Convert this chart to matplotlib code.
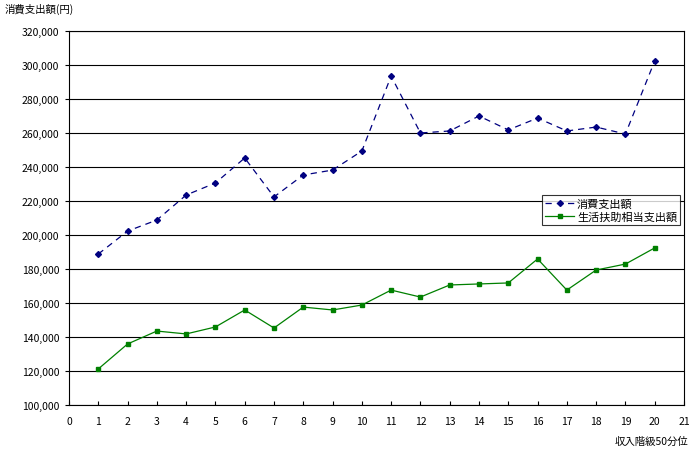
import numpy as np
import matplotlib
matplotlib.use('Agg')
from matplotlib import pyplot as plt
from matplotlib.ticker import FuncFormatter, MultipleLocator

plt.rcParams['font.family'] = ['Noto Sans CJK JP', 'DejaVu Sans']

# data
bins = list(range(1, 21))
consumption = [188800, 202300, 208800, 223500, 230600, 245300, 222400, 235300, 238200, 249400,
               293500, 260000, 261200, 270000, 261800, 268800, 261200, 263500, 259400, 302400]
welfare = [121200, 135900, 143500, 141800, 145900, 155900, 145300, 157600, 155900, 158800,
           167600, 163500, 170600, 171200, 171800, 185900, 167600, 179400, 182900, 192400]
labels = ['消費支出額', '生活扶助相当支出額']

fig = plt.figure(figsize=(6.94, 4.52), dpi=100)
ax = fig.add_axes([69 / 694, 46 / 452, 615 / 694, 374 / 452])

ax.plot(bins, consumption, color='#000080', linestyle=(0, (5, 4)), linewidth=0.9,
        marker='D', markersize=3, label=labels[0])
ax.plot(bins, welfare, color='#008000', linestyle='-', linewidth=0.9,
        marker='s', markersize=3, label=labels[1])

ax.set_xlim(0, 21)
ax.set_ylim(100000, 320000)
ax.xaxis.set_major_locator(MultipleLocator(1))
ax.yaxis.set_major_locator(MultipleLocator(20000))
ax.yaxis.set_major_formatter(FuncFormatter(lambda v, p: '{:,.0f}'.format(v)))
ax.grid(axis='y', color='black', linewidth=0.8)
ax.set_axisbelow(True)
for s in ax.spines.values():
    s.set_linewidth(0.8)
ax.tick_params(axis='x', direction='in', length=3, width=0.8, labelsize=7.5, pad=8)
ax.tick_params(axis='y', direction='out', length=3, width=0.8, labelsize=7.5, pad=4)

leg = ax.legend(loc='upper left', bbox_to_anchor=(473 / 615, (406 - 196) / 374), fontsize=8,
                frameon=True, fancybox=False, borderpad=0.3, labelspacing=0.25,
                handlelength=2.6, handletextpad=0.25, borderaxespad=0)
leg.get_frame().set_edgecolor('black')
leg.get_frame().set_linewidth(0.8)

fig.text(5 / 694, 1 - 9 / 452, '消費支出額(円)', fontsize=7.5, va='center', ha='left')
fig.text(688 / 694, 1 - 442 / 452, '収入階級50分位', fontsize=7.5, va='center', ha='right')

plt.savefig('out.png', dpi=100)
